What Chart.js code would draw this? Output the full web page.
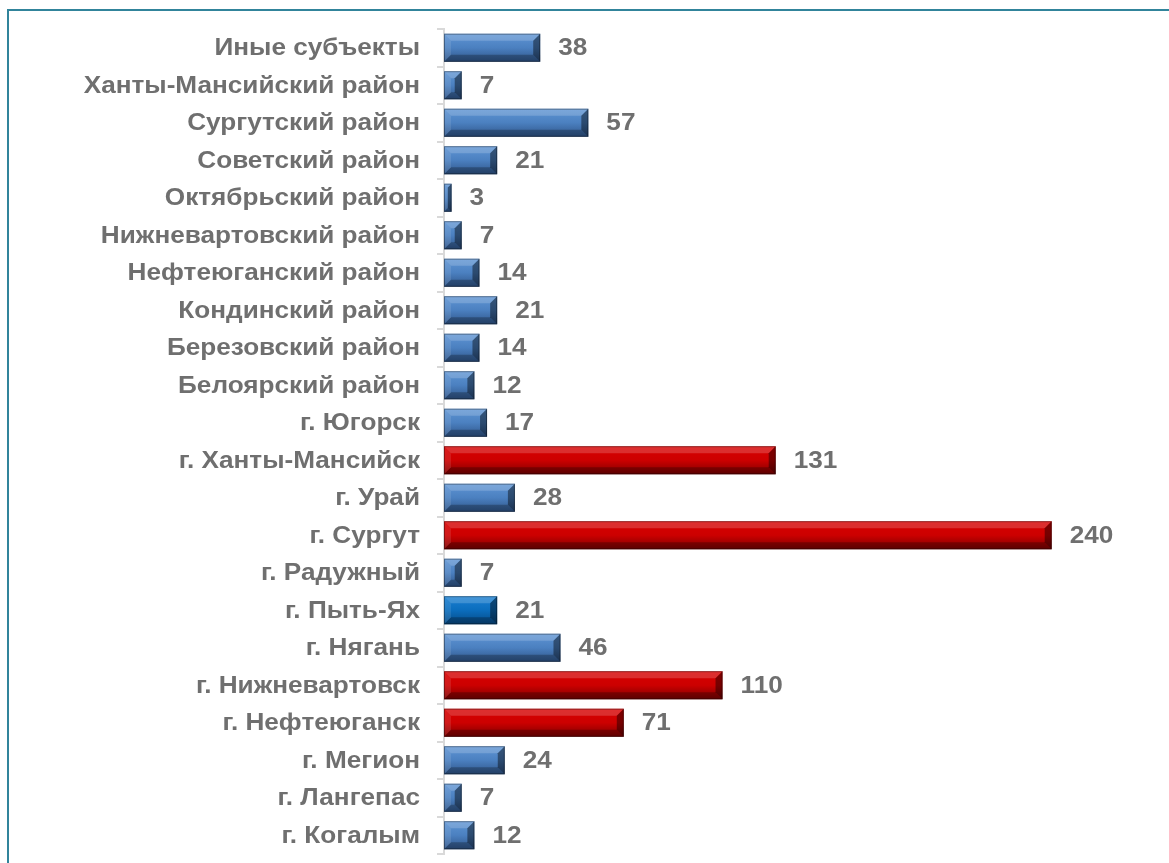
<!DOCTYPE html>
<html>
<head>
<meta charset="utf-8">
<script src="https://cdn.jsdelivr.net/npm/chart.js@4.4.1/dist/chart.umd.min.js"></script>
<style>
    html, body { margin: 0; padding: 0; background: #fff; }
    #wrap { position: relative; width: 1169px; height: 863px; overflow: hidden; }
    #frame { position: absolute; left: 7px; top: 9px; width: 1200px; height: 900px;
             border-left: 2px solid #31849b; border-top: 2px solid #31849b; }
    #chart { position: absolute; left: 0; top: 0; }
</style>
</head>
<body>
<div id="wrap">
    <div id="frame"></div>
    <canvas id="chart" width="1169" height="863"></canvas>
</div>
<script>
    // категории сверху вниз
    var categories = [
        'Иные субъекты',
        'Ханты-Мансийский район',
        'Сургутский район',
        'Советский район',
        'Октябрьский район',
        'Нижневартовский район',
        'Нефтеюганский район',
        'Кондинский район',
        'Березовский район',
        'Белоярский район',
        'г. Югорск',
        'г. Ханты-Мансийск',
        'г. Урай',
        'г. Сургут',
        'г. Радужный',
        'г. Пыть-Ях',
        'г. Нягань',
        'г. Нижневартовск',
        'г. Нефтеюганск',
        'г. Мегион',
        'г. Лангепас',
        'г. Когалым'
    ];
    var values = [38, 7, 57, 21, 3, 7, 14, 21, 14, 12, 17, 131, 28, 240, 7, 21, 46, 110, 71, 24, 7, 12];
    // 'b' - синий, 'r' - красный, 'c' - ярко-синий
    var colorKeys = ['b','b','b','b','b','b','b','b','b','b','b','r','b','r','b','c','b','r','r','b','b','b'];

    var palette = {
        b: { fill: '#4b80c0', light: '#5f95d4', dark: '#2f5589' },
        r: { fill: '#cc0000', light: '#d80000', dark: '#7d0000' },
        c: { fill: '#0b6dbd', light: '#1b80d2', dark: '#064a85' }
    };

    var textColor = '#6f6f6f';
    var fontFamily = '"Liberation Sans", Arial, sans-serif';
    var stretch = 1.09; // текст в оригинале чуть растянут по ширине

    function drawText(ctx, txt, x, y, align) {
        ctx.save();
        ctx.translate(x, y);
        ctx.scale(stretch, 1);
        ctx.textAlign = align;
        ctx.fillText(txt, 0, 0);
        ctx.restore();
    }

    var bevelPlugin = {
        id: 'bevel',
        afterDatasetsDraw: function(chart) {
            var ctx = chart.ctx;
            var meta = chart.getDatasetMeta(0);
            meta.data.forEach(function(bar, i) {
                var p = palette[colorKeys[i]];
                var left = Math.min(bar.base, bar.x), right = Math.max(bar.base, bar.x);
                var top = bar.y - bar.height / 2, bottom = bar.y + bar.height / 2;
                var w = right - left, h = bottom - top;
                var b = Math.min(7, w / 2, h / 2);
                ctx.save();
                var g = ctx.createLinearGradient(0, top, 0, bottom);
                g.addColorStop(0, p.light);
                g.addColorStop(0.5, p.fill);
                g.addColorStop(1, p.dark);
                ctx.fillStyle = g;
                ctx.fillRect(left, top, w, h);
                // верхняя фаска
                ctx.fillStyle = 'rgba(255,255,255,0.18)';
                ctx.beginPath();
                ctx.moveTo(left, top); ctx.lineTo(right, top);
                ctx.lineTo(right - b, top + b); ctx.lineTo(left + b, top + b);
                ctx.closePath(); ctx.fill();
                // нижняя фаска
                ctx.fillStyle = 'rgba(0,0,0,0.25)';
                ctx.beginPath();
                ctx.moveTo(left, bottom); ctx.lineTo(right, bottom);
                ctx.lineTo(right - b, bottom - b); ctx.lineTo(left + b, bottom - b);
                ctx.closePath(); ctx.fill();
                // правая фаска
                ctx.fillStyle = 'rgba(0,0,0,0.42)';
                ctx.beginPath();
                ctx.moveTo(right, top); ctx.lineTo(right, bottom);
                ctx.lineTo(right - b, bottom - b); ctx.lineTo(right - b, top + b);
                ctx.closePath(); ctx.fill();
                // левая фаска
                ctx.fillStyle = 'rgba(255,255,255,0.10)';
                ctx.beginPath();
                ctx.moveTo(left, top); ctx.lineTo(left, bottom);
                ctx.lineTo(left + b, bottom - b); ctx.lineTo(left + b, top + b);
                ctx.closePath(); ctx.fill();
                ctx.strokeStyle = 'rgba(0,0,0,0.35)';
                ctx.lineWidth = 1;
                ctx.strokeRect(left + 0.5, top + 0.5, w - 1, h - 1);
                ctx.restore();
            });
        }
    };

    var textPlugin = {
        id: 'texts',
        afterDatasetsDraw: function(chart) {
            var ctx = chart.ctx;
            var meta = chart.getDatasetMeta(0);
            var yScale = chart.scales.y;
            ctx.save();
            ctx.font = 'bold 24px ' + fontFamily;
            ctx.fillStyle = textColor;
            ctx.textBaseline = 'middle';
            // подписи категорий
            categories.forEach(function(c, i) {
                drawText(ctx, c, yScale.right - 24, yScale.getPixelForValue(i) + 1, 'right');
            });
            // значения
            meta.data.forEach(function(bar, i) {
                drawText(ctx, String(values[i]), bar.x + 18, bar.y + 1, 'left');
            });
            ctx.restore();
        }
    };

    new Chart(document.getElementById('chart'), {
        type: 'bar',
        data: {
            labels: categories,
            datasets: [{
                data: values,
                backgroundColor: 'rgba(0,0,0,0)',
                borderWidth: 0,
                categoryPercentage: 1,
                barPercentage: 0.75
            }]
        },
        options: {
            indexAxis: 'y',
            responsive: false,
            animation: false,
            layout: { padding: { left: 0, right: 16, top: 29, bottom: 9 } },
            plugins: {
                legend: { display: false },
                tooltip: { enabled: false }
            },
            scales: {
                x: {
                    display: false,
                    min: 0,
                    max: 280
                },
                y: {
                    afterFit: function(scale) { scale.width = 444; },
                    grid: {
                        drawOnChartArea: false,
                        drawTicks: true,
                        tickLength: 7,
                        color: '#d9d9d9',
                        lineWidth: 2
                    },
                    border: { display: true, color: '#d9d9d9', width: 2 },
                    ticks: { display: false }
                }
            }
        },
        plugins: [bevelPlugin, textPlugin]
    });
</script>
</body>
</html>
